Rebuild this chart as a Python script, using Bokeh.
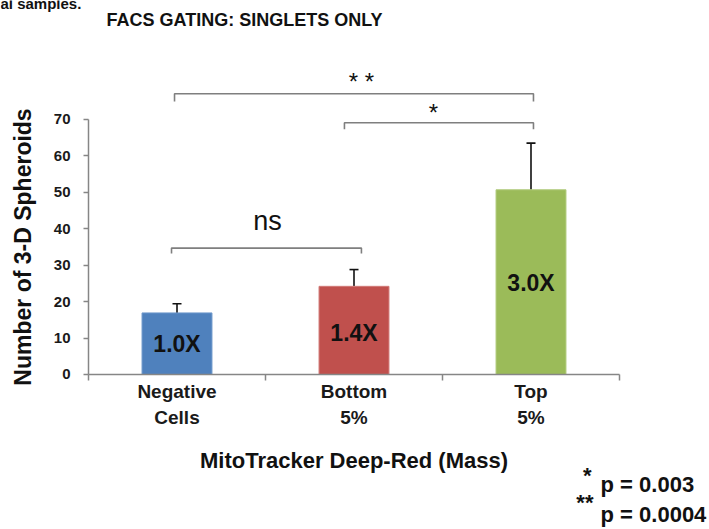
from bokeh.plotting import figure
from bokeh.models import Range1d, FixedTicker, Label, Whisker, ColumnDataSource, TeeHead
from bokeh.core.properties import value
from bokeh.embed import file_html
from bokeh.resources import INLINE

# ---- data ----
categories = ["Negative\nCells", "Bottom\n5%", "Top\n5%"]
spheroids = [16.9, 24.2, 50.7]
errors = [2.5, 4.6, 12.8]
fold_labels = ["1.0X", "1.4X", "3.0X"]
fold_label_y = [8.5, 11.5, 25.0]
bar_colors = ["#4F81BD", "#C0504D", "#9BBB59"]
bar_edges = ["#6E98CB", "#D27A78", "#B0CB7C"]
y_ticks = [0, 10, 20, 30, 40, 50, 60, 70]

# significance brackets
br_x0 = [0.486, 1.446, 0.469]
br_x1 = [2.514, 2.514, 1.542]
br_y = [77.05, 69.1, 34.7]
br_drop = [2.1, 1.8, 1.5]
br_text = ["* *", "*", "ns"]
br_text_x = [1.542, 1.949, 1.011]
br_text_y = [80.3, 71.8, 42.1]
br_text_size = ["24px", "24px", "27px"]

title_text = "FACS GATING:  SINGLETS ONLY"
caption_text = "al samples."
x_title = "MitoTracker Deep-Red (Mass)"
y_title = "Number of 3-D Spheroids"
pvals_star = ["*", "**"]
pvals_text = ["p = 0.003", "p = 0.0004"]
pvals_star_x = [2.842, 2.853]
pvals_star_y = [-27.6, -35.1]
pvals_text_y = [-30.3, -38.5]

FONT = "Liberation Sans"
INK = "#111111"
n = len(categories)
xc = [i + 0.5 for i in range(n)]

p = figure(width=709, height=529, output_backend="svg", toolbar_location=None,
           x_range=Range1d(-0.4972, 3.5085), y_range=Range1d(-42.55, 102.66),
           min_border_left=0, min_border_right=0, min_border_top=0, min_border_bottom=0)
p.outline_line_color = None
p.xgrid.visible = False
p.ygrid.visible = False
p.background_fill_color = "white"
p.border_fill_color = "white"

# bars
src = ColumnDataSource(dict(x=xc, top=spheroids, upper=[v + e for v, e in zip(spheroids, errors)],
                            color=bar_colors, edge=bar_edges, lab=fold_labels, ly=fold_label_y))
p.vbar(x="x", top="top", width=0.395, bottom=0, fill_color="color", line_color="edge",
       line_width=1, source=src)

# error bars (upper only)
w = Whisker(base="x", upper="upper", lower="top", source=src, line_color=INK, line_width=1.6,
            upper_head=TeeHead(size=9, line_color=INK, line_width=1.6), lower_head=None)
p.add_layout(w)

# fold labels
p.text(x="x", y="ly", text="lab", source=src, text_align="center", text_baseline="middle",
       text_font=value(FONT), text_font_style="bold", text_font_size="23px", text_color=INK)

# brackets
xs, ys = [], []
for a, b, y, d in zip(br_x0, br_x1, br_y, br_drop):
    xs.append([a, a, b, b])
    ys.append([y - d, y, y, y - d])
p.multi_line(xs=xs, ys=ys, line_color="#7F7F7F", line_width=1.6)
for t, x, y, s in zip(br_text, br_text_x, br_text_y, br_text_size):
    p.add_layout(Label(x=x, y=y, text=t, text_align="center", text_baseline="middle",
                       text_font=FONT, text_font_size=s, text_color=INK))

# axes (drawn at data location 0)
yax = p.yaxis[0]
yax.fixed_location = 0
yax.ticker = FixedTicker(ticks=y_ticks)
yax.bounds = (0, 70)
yax.axis_line_color = "#868686"
yax.axis_line_width = 1.5
yax.major_tick_line_color = "#868686"
yax.major_tick_line_width = 1.5
yax.major_tick_out = 5
yax.major_tick_in = 0
yax.minor_tick_line_color = None
yax.major_label_text_font = FONT
yax.major_label_text_font_style = "bold"
yax.major_label_text_font_size = "15px"
yax.major_label_text_color = "#1a1a1a"
yax.major_label_standoff = 13
yax.axis_label = y_title
yax.axis_label_text_font = FONT
yax.axis_label_text_font_style = "bold"
yax.axis_label_text_font_size = "23px"
yax.axis_label_text_color = INK
yax.axis_label_standoff = 15

xax = p.xaxis[0]
xax.fixed_location = 0
xax.ticker = FixedTicker(ticks=xc, minor_ticks=list(range(n + 1)))
xax.bounds = (0, n)
xax.major_label_overrides = {x: c for x, c in zip(xc, categories)}
xax.axis_line_color = "#868686"
xax.axis_line_width = 1.5
xax.major_tick_line_color = None
xax.major_tick_out = 0
xax.major_tick_in = 0
xax.minor_tick_line_color = "#868686"
xax.minor_tick_line_width = 1.5
xax.minor_tick_out = 6
xax.minor_tick_in = 0
xax.major_label_text_font = FONT
xax.major_label_text_font_style = "bold"
xax.major_label_text_font_size = "19px"
xax.major_label_text_color = "#1a1a1a"
xax.major_label_standoff = 1
xax.axis_label = x_title
xax.axis_label_text_font = FONT
xax.axis_label_text_font_style = "bold"
xax.axis_label_text_font_size = "22px"
xax.axis_label_text_color = INK
xax.axis_label_standoff = 17

# title and partial caption
p.add_layout(Label(x=0.8955, y=97.2, text=title_text, text_align="center", text_baseline="middle",
                   text_font=FONT, text_font_style="bold", text_font_size="18px", text_color=INK))
p.add_layout(Label(x=-0.4972, y=101.9, text=caption_text, text_align="left", text_baseline="middle",
                   text_font=FONT, text_font_style="bold", text_font_size="15px", text_color=INK))

# p-value notes
for st, tx, sx, sy, ty in zip(pvals_star, pvals_text, pvals_star_x, pvals_star_y, pvals_text_y):
    p.add_layout(Label(x=sx, y=sy, text=st, text_align="right", text_baseline="middle",
                       text_font=FONT, text_font_style="bold", text_font_size="22px", text_color=INK))
    p.add_layout(Label(x=2.893, y=ty, text=tx, text_align="left", text_baseline="middle",
                       text_font=FONT, text_font_style="bold", text_font_size="22px", text_color=INK))

open("out.html", "w").write(file_html(p, INLINE))
